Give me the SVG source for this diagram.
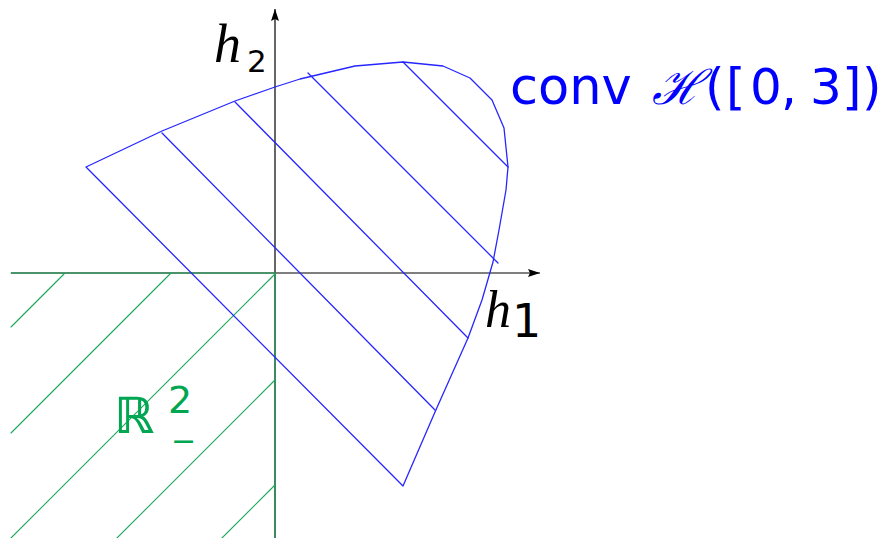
<svg xmlns="http://www.w3.org/2000/svg" width="885" height="538" viewBox="0 0 885 538">
<defs>
<style>
.blue{fill:none;stroke:#2626ff;stroke-width:1.3;stroke-linejoin:round;stroke-linecap:round}
.green{fill:none;stroke:#1aa85a;stroke-width:1.1;stroke-linecap:round}
.axis{fill:none;stroke:#000;stroke-width:1.2}
.math{font-family:"Liberation Serif",serif;font-style:italic}
.sans{font-family:"DejaVu Sans",sans-serif}
</style>
<marker id="arr" viewBox="0 0 12 8" refX="12" refY="4" markerWidth="12" markerHeight="8" markerUnits="userSpaceOnUse" orient="auto">
<path d="M0,0 L12,4 L0,8 L2,4 Z" fill="#000"/>
</marker>
</defs>
<rect width="885" height="538" fill="#fff"/>
<g id="axes">
<line class="axis" x1="275" y1="538" x2="275" y2="9" marker-end="url(#arr)"/>
<line x1="11" y1="273" x2="540" y2="273" stroke="#555" stroke-width="1.4" marker-end="url(#arr)"/>
</g>
<g id="negative-orthant">
<line class="green" x1="11" y1="273" x2="275" y2="273" stroke-width="1.6"/>
<line class="green" x1="275" y1="273" x2="275" y2="538"/>
<line class="green" x1="11" y1="327" x2="64" y2="274"/>
<line class="green" x1="11" y1="433" x2="170" y2="274"/>
<line class="green" x1="11" y1="538" x2="275" y2="274"/>
<line class="green" x1="117" y1="538" x2="275" y2="380"/>
<line class="green" x1="222" y1="538" x2="275" y2="485"/>
</g>
<g id="convex-hull">
<polygon class="blue" points="86,167 162,131 235,101 275,87 300,79 355,66 403,62 443,66 470,78 492,100 504,128 508,167 506,190 499,230 493,262 482,300 468,338 435,412 403,486"/>
<line class="blue" x1="162" y1="133" x2="435" y2="410"/>
<line class="blue" x1="235" y1="102" x2="468" y2="338"/>
<line class="blue" x1="308" y1="73" x2="498" y2="263"/>
<line class="blue" x1="403" y1="62" x2="508" y2="167"/>
</g>
<g id="labels">
<text class="math" x="214" y="62" font-size="54">h</text>
<text class="sans" x="247" y="72" font-size="31">2</text>
<text class="math" x="485" y="327" font-size="52">h</text>
<text class="sans" x="512" y="337" font-size="46">1</text>
<text x="0" y="104" fill="#0000ff" class="sans" font-size="51"><tspan x="510">conv</tspan><tspan x="652" font-size="48" font-family="DejaVu Serif,serif" font-style="italic">ℋ</tspan><tspan x="705" font-size="50">(</tspan><tspan x="726" font-size="50">[</tspan><tspan x="750" font-size="50">0</tspan><tspan x="781" font-size="50">,</tspan><tspan x="810" font-size="50">3</tspan><tspan x="842" font-size="50">]</tspan><tspan x="862" font-size="50">)</tspan></text>
<text class="sans" x="114" y="433" font-size="50" font-weight="bold" fill="#00a651">ℝ</text>
<text class="sans" x="168" y="413" font-size="38" fill="#00a651">2</text>
<text class="sans" x="171" y="451" font-size="30" fill="#00a651">−</text>
</g>
</svg>
